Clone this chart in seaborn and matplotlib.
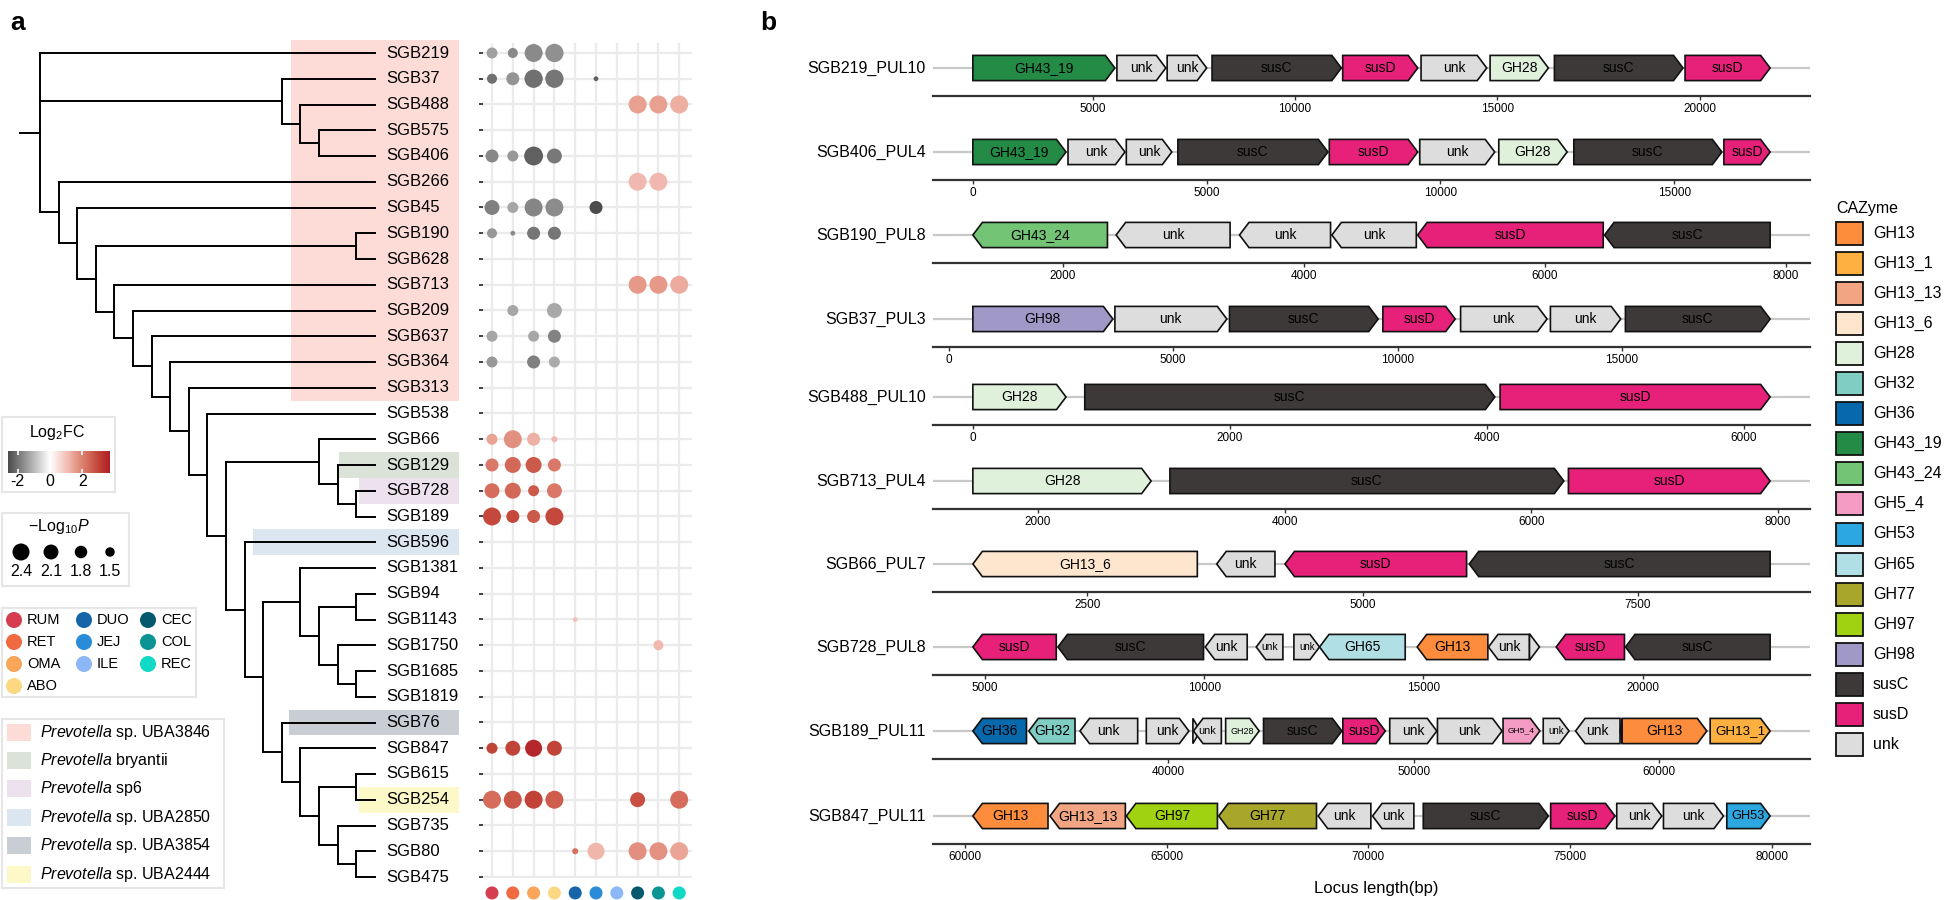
import numpy as np
import pandas as pd
import matplotlib
matplotlib.use('Agg')
import matplotlib.pyplot as plt
import seaborn as sns
from matplotlib.patches import Rectangle, Polygon
from matplotlib.colors import LinearSegmentedColormap, Normalize
from matplotlib.ticker import MultipleLocator, StrMethodFormatter

# ---------------- data ----------------
# tree topology (cladogram units)
NEWICK = ("(SGB219:18,(SGB37:5,(SGB488:4,(SGB575:3,SGB406:3):1):1):13,"
          "(SGB266:17,(SGB45:16,((SGB190:1,SGB628:1):14,"
          "(SGB713:14,(SGB209:13,(SGB637:12,(SGB364:11,(SGB313:10,(SGB538:9,"
          "((SGB66:3,(SGB129:2,(SGB728:1,SGB189:1):1):1):5,"
          "(SGB596:7,((SGB1381:4,((SGB94:1,SGB1143:1):2,(SGB1750:2,(SGB1685:1,SGB1819:1):1):1):1):2,"
          "(SGB76:5,(SGB847:4,((SGB615:1,SGB254:1):2,(SGB735:2,(SGB80:1,SGB475:1):1):1):1):1)"
          ":1):1):1):1):1):1):1):1):1):1):1):1):1);")

clade_species = ['Prevotella sp. UBA3846', 'Prevotella bryantii', 'Prevotella sp6',
                 'Prevotella sp. UBA2850', 'Prevotella sp. UBA3854', 'Prevotella sp. UBA2444']
clade_first = ['SGB219', 'SGB129', 'SGB728', 'SGB596', 'SGB76', 'SGB254']
clade_last = ['SGB313', 'SGB129', 'SGB728', 'SGB596', 'SGB76', 'SGB254']
clade_colors = ['#fddcd8', '#dbe3d9', '#ede1ee', '#dbe6f0', '#c9cdd4', '#fdf8c8']

tissues = ['RUM', 'RET', 'OMA', 'ABO', 'DUO', 'JEJ', 'ILE', 'CEC', 'COL', 'REC']
tissue_colors = ['#d63d50', '#ef6a40', '#f9a65a', '#fdd882', '#1565a8',
                 '#2a8bd9', '#8db8f8', '#04596e', '#0a9494', '#10d9c5']

dot_sgb = (['SGB219'] * 4 + ['SGB37'] * 5 + ['SGB488'] * 3 + ['SGB406'] * 4 + ['SGB266'] * 2 +
           ['SGB45'] * 5 + ['SGB190'] * 4 + ['SGB713'] * 3 + ['SGB209'] * 2 + ['SGB637'] * 3 +
           ['SGB364'] * 3 + ['SGB66'] * 4 + ['SGB129'] * 4 + ['SGB728'] * 4 + ['SGB189'] * 4 +
           ['SGB1143'] + ['SGB1750'] + ['SGB847'] * 4 + ['SGB254'] * 6 + ['SGB80'] * 5)
dot_tissue = (['RUM', 'RET', 'OMA', 'ABO'] + ['RUM', 'RET', 'OMA', 'ABO', 'JEJ'] + ['CEC', 'COL', 'REC'] +
              ['RUM', 'RET', 'OMA', 'ABO'] + ['CEC', 'COL'] + ['RUM', 'RET', 'OMA', 'ABO', 'JEJ'] +
              ['RUM', 'RET', 'OMA', 'ABO'] + ['CEC', 'COL', 'REC'] + ['RET', 'ABO'] + ['RUM', 'OMA', 'ABO'] +
              ['RUM', 'OMA', 'ABO'] + ['RUM', 'RET', 'OMA', 'ABO'] + ['RUM', 'RET', 'OMA', 'ABO'] +
              ['RUM', 'RET', 'OMA', 'ABO'] + ['RUM', 'RET', 'OMA', 'ABO'] + ['DUO'] + ['COL'] +
              ['RUM', 'RET', 'OMA', 'ABO'] + ['RUM', 'RET', 'OMA', 'ABO', 'CEC', 'REC'] +
              ['DUO', 'JEJ', 'CEC', 'COL', 'REC'])
dot_lfc = ([-1.38, -1.73, -1.69, -1.61] + [-2.07, -1.55, -2.07, -1.97, -2.3] + [1.5, 1.5, 1.3] +
           [-1.73, -1.5, -2.3, -1.95] + [1.15, 1.15] + [-1.84, -1.3, -1.75, -1.65, -2.6] +
           [-1.5, -1.7, -1.97, -1.97] + [1.6, 1.6, 1.35] + [-1.3, -1.25] + [-1.3, -1.3, -1.8] +
           [-1.5, -1.84, -1.23] + [1.47, 1.75, 1.26, 1.15] + [2.16, 2.4, 2.64, 2.16] +
           [2.37, 2.4, 2.64, 2.16] + [2.9, 2.9, 2.64, 2.9] + [1.0] + [1.15] + [3.0, 3.0, 3.5, 3.0] +
           [2.37, 2.69, 3.03, 2.58, 2.8, 2.37] + [2.29, 1.2, 1.78, 1.71, 1.44])
dot_logp = ([1.64, 1.55, 2.55, 2.6] + [1.55, 1.86, 2.6, 2.6, 1.2] + [2.55, 2.55, 2.55] +
            [1.86, 1.64, 2.7, 2.1] + [2.55, 2.55] + [2.1, 1.64, 2.55, 2.55, 1.86] +
            [1.55, 1.2, 1.86, 1.86] + [2.55, 2.55, 2.55] + [1.64, 2.1] + [1.64, 1.64, 1.86] +
            [1.64, 1.86, 1.64] + [1.64, 2.55, 1.86, 1.26] + [1.86, 2.25, 2.25, 1.86] +
            [2.1, 2.25, 1.64, 2.1] + [2.55, 1.86, 1.86, 2.55] + [1.2] + [1.55] + [1.64, 2.1, 2.4, 2.1] +
            [2.55, 2.55, 2.55, 2.55, 2.1, 2.55] + [1.26, 2.4, 2.55, 2.55, 2.55])

cazyme_names = ['GH13', 'GH13_1', 'GH13_13', 'GH13_6', 'GH28', 'GH32', 'GH36', 'GH43_19', 'GH43_24',
                'GH5_4', 'GH53', 'GH65', 'GH77', 'GH97', 'GH98', 'susC', 'susD', 'unk']
cazyme_colors = ['#fd8d3c', '#fdb03f', '#f2a583', '#fee6ce', '#e0f1db', '#7fcdc3', '#0868ac', '#238b45',
                 '#74c476', '#f39bc3', '#2ca7e0', '#b0e0e6', '#a9a72b', '#a1d212', '#a099c8', '#3d3939',
                 '#e7217a', '#dddddd']

loci = ['SGB219_PUL10', 'SGB406_PUL4', 'SGB190_PUL8', 'SGB37_PUL3', 'SGB488_PUL10',
        'SGB713_PUL4', 'SGB66_PUL7', 'SGB728_PUL8', 'SGB189_PUL11', 'SGB847_PUL11']
locus_tick_step = [5000, 5000, 2000, 5000, 2000, 2000, 2500, 5000, 10000, 5000]

gene_locus = (['SGB219_PUL10'] * 9 + ['SGB406_PUL4'] * 9 + ['SGB190_PUL8'] * 6 + ['SGB37_PUL3'] * 7 +
              ['SGB488_PUL10'] * 3 + ['SGB713_PUL4'] * 3 + ['SGB66_PUL7'] * 4 + ['SGB728_PUL8'] * 11 +
              ['SGB189_PUL11'] * 18 + ['SGB847_PUL11'] * 11)
gene_name = (['GH43_19', 'unk', 'unk', 'susC', 'susD', 'unk', 'GH28', 'susC', 'susD'] +
             ['GH43_19', 'unk', 'unk', 'susC', 'susD', 'unk', 'GH28', 'susC', 'susD'] +
             ['GH43_24', 'unk', 'unk', 'unk', 'susD', 'susC'] +
             ['GH98', 'unk', 'susC', 'susD', 'unk', 'unk', 'susC'] +
             ['GH28', 'susC', 'susD'] +
             ['GH28', 'susC', 'susD'] +
             ['GH13_6', 'unk', 'susD', 'susC'] +
             ['susD', 'susC', 'unk', 'unk', 'unk', 'GH65', 'GH13', 'unk', 'unk', 'susD', 'susC'] +
             ['GH36', 'GH32', 'unk', 'unk', 'unk', 'unk', 'GH28', 'susC', 'susD', 'unk', 'unk', 'GH5_4',
              'unk', 'unk', 'unk', 'GH13', 'GH13_1'] + ['unk'] +
             ['GH13', 'GH13_13', 'GH97', 'GH77', 'unk', 'unk', 'susC', 'susD', 'unk', 'unk', 'GH53'])
gene_start = ([2036, 5596, 6838, 7948, 11177, 13114, 14820, 16410, 19639] +
              [0, 2035, 3282, 4385, 7624, 9558, 11249, 12854, 16064] +
              [1256, 2444, 3467, 4233, 4944, 6494] +
              [537, 3702, 6255, 9673, 11405, 13406, 15077] +
              [0, 871, 4104] +
              [1473, 3070, 6300] +
              [1460, 3674, 4294, 5967] +
              [4724, 6664, 10023, 11186, 12045, 12629, 14856, 16482, 17417, 18026, 19606] +
              [32049, 34327, 36413, 39112, 41010, 41035, 42344, 43886, 47117, 49026, 50970, 53641,
               55277, 56594, 58420, 58492, 62076] + [58420] +
              [60201, 62113, 64005, 66294, 68759, 70106, 71363, 74520, 76157, 77315, 78885])
gene_end = ([5546, 6805, 7815, 11144, 13032, 14737, 16261, 19589, 21742] +
            [1992, 3253, 4256, 7595, 9515, 11163, 12711, 16021, 17053] +
            [2372, 3389, 4222, 4933, 6483, 7867] +
            [3657, 6196, 9569, 11285, 13331, 14973, 18302] +
            [725, 4063, 6206] +
            [2918, 6263, 7935] +
            [3498, 4203, 5943, 8699] +
            [6626, 9984, 10980, 11794, 12629, 14583, 16468, 17417, 17645, 19583, 22905] +
            [34233, 36209, 38761, 40847, 41309, 42168, 43710, 47076, 48847, 50943, 53600, 55142,
             56328, 58405, 58490, 61940, 64518] + [58490] +
            [62063, 63980, 66262, 68717, 70064, 71130, 74463, 76115, 77273, 78803, 79959])
gene_strand = ([1] * 9 + [1] * 9 + [-1] * 6 + [1] * 7 + [1] * 3 + [1] * 3 + [-1] * 4 +
               [-1, -1, -1, -1, 1, -1, -1, -1, 1, -1, -1] +
               [-1, -1, -1, 1, 1, -1, 1, 1, 1, 1, 1, 1, 1, -1, -1, 1, 1] + [-1] +
               [-1, -1, -1, -1, -1, -1, 1, 1, 1, 1, 1])

# ---------------- style ----------------
W, H = 1946, 900
sns.set_theme(style='white')
plt.rcParams['font.family'] = ['Liberation Sans', 'DejaVu Sans']
plt.rcParams['mathtext.fontset'] = 'custom'
plt.rcParams['mathtext.rm'] = 'Liberation Sans'
plt.rcParams['mathtext.it'] = 'Liberation Sans:italic'
plt.rcParams['mathtext.bf'] = 'Liberation Sans:bold'
plt.rcParams['text.color'] = 'black'
plt.rcParams['xtick.color'] = 'black'
plt.rcParams['ytick.color'] = 'black'

fig = plt.figure(figsize=(W / 100, H / 100), dpi=100)
fig.patch.set_facecolor('white')


def px_axes(l, t, r, b, **kw):
    return fig.add_axes([l / W, 1 - b / H, (r - l) / W, (b - t) / H], **kw)


ov = px_axes(0, 0, W, H)
ov.set_xlim(0, W)
ov.set_ylim(H, 0)
ov.axis('off')

# gray -> white -> red, red side bends towards salmon like ggplot's Lab interpolation
lfc_cmap = LinearSegmentedColormap.from_list(
    'lfc', [(0.0, '#000000'), (0.5, '#ffffff'), (0.662, '#f0b5ab'), (0.703, '#e8a090'),
            (0.824, '#d46a5a'), (0.892, '#c44a3c'), (1.0, '#b01f26')])
lfc_norm = Normalize(-3.7, 3.7)
SZ_MIN, SZ_MAX, P_MIN, P_MAX = 12, 196, 1.2, 2.8


# ---------------- tree ----------------
def parse_newick(s):
    s = s.strip().rstrip(';')
    pos = 0

    def node():
        nonlocal pos
        kids = []
        if s[pos] == '(':
            pos += 1
            while True:
                kids.append(node())
                if s[pos] == ',':
                    pos += 1
                    continue
                pos += 1
                break
        st = pos
        while pos < len(s) and s[pos] not in ',():':
            pos += 1
        name = s[st:pos]
        length = 0.0
        if pos < len(s) and s[pos] == ':':
            pos += 1
            st = pos
            while pos < len(s) and s[pos] not in ',()':
                pos += 1
            length = float(s[st:pos])
        return {'name': name, 'len': length, 'kids': kids}

    return node()


tree = parse_newick(NEWICK)
leaves = []


def layout(n, x):
    n['x'] = x
    if not n['kids']:
        n['y'] = len(leaves)
        leaves.append(n['name'])
        return
    for k in n['kids']:
        layout(k, x + k['len'])
    ys = [k['y'] for k in n['kids']]
    n['y'] = (min(ys) + max(ys)) / 2


layout(tree, 0.0)
row_of = {name: i for i, name in enumerate(leaves)}

axt = px_axes(0, 30, 470, 890)
axt.set_xlim((0 - 40) / 18.6, (470 - 40) / 18.6)
axt.set_ylim((890 - 53) / 25.75, (30 - 53) / 25.75)
axt.axis('off')

tl = dict(color='black', lw=1.4, solid_capstyle='projecting')


def draw(n):
    if not n['kids']:
        return
    ys = [k['y'] for k in n['kids']]
    axt.plot([n['x'], n['x']], [min(ys), max(ys)], **tl)
    for k in n['kids']:
        axt.plot([n['x'], k['x']], [k['y'], k['y']], **tl)
        draw(k)


draw(tree)
axt.plot([-1.07, 0], [tree['y'], tree['y']], **tl)

hl_x0 = [13.5, 16.1, 17.15, 11.45, 13.4, 17.15]
for f, l, c, x0 in zip(clade_first, clade_last, clade_colors, hl_x0):
    r0, r1 = row_of[f] - 0.5, row_of[l] + 0.5
    axt.add_patch(Rectangle((x0, r0), 22.55 - x0, r1 - r0, facecolor=c, edgecolor='none', zorder=0))

for name in leaves:
    axt.text(18.6, row_of[name], name, va='center', ha='left', fontsize=12)

# ---------------- dot matrix ----------------
dots = pd.DataFrame({'sgb': dot_sgb, 'tissue': dot_tissue, 'lfc': dot_lfc, 'logp': dot_logp})
dots['row'] = dots.sgb.map(row_of)
dots['col'] = dots.tissue.map(tissues.index)

axd = px_axes(483, 43, 692, 878)
sns.scatterplot(data=dots, x='col', y='row', hue='lfc', size='logp', palette=lfc_cmap,
                hue_norm=lfc_norm, sizes=(SZ_MIN, SZ_MAX), size_norm=(P_MIN, P_MAX),
                edgecolor='none', linewidth=0, legend=False, ax=axd, zorder=3)
axd.set_xlim(-0.433, 9.615)
axd.set_ylim(32.04, -0.388)
axd.set_xticks(range(len(tissues)))
axd.set_yticks(range(len(leaves)))
axd.grid(True, color='#ebebeb', lw=1.6)
axd.set_axisbelow(True)
axd.set_xlabel('')
axd.set_ylabel('')
for sp in axd.spines.values():
    sp.set_visible(False)
axd.tick_params(axis='y', left=True, length=3, width=1.3, color='#333333', pad=0, labelleft=False)
axd.tick_params(axis='x', bottom=False, labelbottom=False)
axd.scatter(range(len(tissues)), [32.62] * len(tissues), c=tissue_colors, s=88, clip_on=False,
            edgecolor='none', zorder=4)

# ---------------- panel a legends ----------------
box = dict(facecolor='white', edgecolor='#e6e6e6', lw=1.5)
ov.add_patch(Rectangle((2, 417), 113, 75, **box))
ov.text(57, 432, 'Log$_2$FC', ha='center', va='center', fontsize=11.5)
cax = px_axes(8, 451, 110, 473)
grad = np.linspace(-2.6, 3.7, 256)
cax.imshow(grad[None, :], extent=(-2.6, 3.7, 0, 1), aspect='auto', cmap=lfc_cmap, norm=lfc_norm)
cax.vlines([-2, 2], 0, 0.2, color='white', lw=1.2)
cax.vlines([-2, 2], 0.8, 1, color='white', lw=1.2)
cax.set_xlim(-2.6, 3.7)
cax.set_ylim(0, 1)
cax.set_xticks([-2, 0, 2])
cax.set_xticklabels(['-2', '0', '2'])
cax.set_yticks([])
cax.tick_params(axis='x', length=0, labelsize=11.5, pad=1)
for sp in cax.spines.values():
    sp.set_visible(False)

ov.add_patch(Rectangle((2, 513), 127, 73, **box))
ov.text(59, 527, '$-$Log$_{10}$$\\mathit{P}$', ha='center', va='center', fontsize=11.5)
leg_p = [2.4, 2.1, 1.8, 1.5]
leg_s = [SZ_MIN + (v - P_MIN) / (P_MAX - P_MIN) * (SZ_MAX - SZ_MIN) for v in leg_p]
ov.scatter([21, 51, 81, 110], [552] * 4, s=leg_s, c='black', edgecolor='none')
for x, v in zip([21, 51, 81, 110], leg_p):
    ov.text(x, 572, f'{v}', ha='center', va='center', fontsize=11.5)

ov.add_patch(Rectangle((2, 608), 194, 89, **box))
col_x = [14, 84, 148]
col_groups = [tissues[0:4], tissues[4:7], tissues[7:10]]
for cx, grp in zip(col_x, col_groups):
    for j, t in enumerate(grp):
        y = 620 + 22 * j
        ov.scatter([cx], [y], s=133, c=tissue_colors[tissues.index(t)], edgecolor='none')
        ov.text(cx + 13, y, t, ha='left', va='center', fontsize=10.5)

ov.add_patch(Rectangle((2, 719), 222, 169, **box))
for j, (sp_name, c) in enumerate(zip(clade_species, clade_colors)):
    y = 732 + 28.4 * j
    ov.add_patch(Rectangle((7, y - 8.5), 24, 17, facecolor=c, edgecolor='none'))
    genus, rest = sp_name.split(' ', 1)
    ov.text(40, y, f'$\\mathit{{{genus}}}$ {rest}', ha='left', va='center', fontsize=11.5)

ov.text(10, 30, 'a', fontsize=19, fontweight='bold', va='baseline')
ov.text(760, 30, 'b', fontsize=19, fontweight='bold', va='baseline')

# ---------------- panel b: gene maps ----------------
genes = pd.DataFrame({'locus': gene_locus, 'gene': gene_name, 'start': gene_start,
                      'end': gene_end, 'strand': gene_strand})
fill_of = dict(zip(cazyme_names, cazyme_colors))
centers = [68, 152, 235, 319, 397, 481, 564, 647, 731, 816]
renderer = fig.canvas.get_renderer()
PANEL_PX = 1810 - 933
HEAD_PX = 9.5
HH = 0.45

for locus, c, step in zip(loci, centers, locus_tick_step):
    ax = px_axes(933, c - 28, 1810, c + 28)
    g = genes[genes.locus == locus]
    lo, hi = g.start.min(), g.end.max()
    pad = 0.05 * (hi - lo)
    ax.set_xlim(lo - pad, hi + pad)
    ax.set_ylim(-1, 1)
    bp_per_px = (hi - lo + 2 * pad) / PANEL_PX
    head = HEAD_PX * bp_per_px
    ax.axhline(0, color='#c8c8c8', lw=1.6, zorder=0)
    for _, r in g.iterrows():
        s, e = r.start, r.end
        if r.strand > 0:
            if e - s > head:
                pts = [(s, -HH), (e - head, -HH), (e, 0), (e - head, HH), (s, HH)]
            else:
                pts = [(s, -HH), (e, 0), (s, HH)]
        else:
            if e - s > head:
                pts = [(e, -HH), (s + head, -HH), (s, 0), (s + head, HH), (e, HH)]
            else:
                pts = [(e, -HH), (s, 0), (e, HH)]
        ax.add_patch(Polygon(pts, closed=True, facecolor=fill_of[r.gene], edgecolor='#111111',
                             lw=1.2, joinstyle='miter', zorder=2))
        t = ax.text((s + e) / 2, 0, r.gene, ha='center', va='center', fontsize=10,
                    color='black', zorder=3)
        tw = t.get_window_extent(renderer).width
        avail = (e - s) / bp_per_px - 10
        if avail < 0.4 * tw:
            t.remove()
        elif tw > avail:
            t.set_fontsize(10 * avail / tw)
    ax.xaxis.set_major_locator(MultipleLocator(step))
    ax.xaxis.set_major_formatter(StrMethodFormatter('{x:.0f}'))
    ax.set_yticks([])
    for name, sp in ax.spines.items():
        sp.set_visible(name == 'bottom')
    ax.spines['bottom'].set_color('#333333')
    ax.spines['bottom'].set_linewidth(1.6)
    ax.tick_params(axis='x', bottom=True, length=3, width=1, color='#333333', labelsize=8.5,
                   labelcolor='black', pad=2)
    ax.patch.set_alpha(0)
    ax.text(-0.008, 0.5, locus, transform=ax.transAxes, ha='right', va='center', fontsize=11.5)

ov.text(1376, 889, 'Locus length(bp)', ha='center', va='center', fontsize=12)

# CAZyme legend
ov.text(1836, 209, 'CAZyme', ha='left', va='center', fontsize=11.5)
for j, (nm, col) in enumerate(zip(cazyme_names, cazyme_colors)):
    y = 233 + 30.1 * j
    ov.add_patch(Rectangle((1836, y - 11.5), 27, 23, facecolor=col, edgecolor='#111111', lw=1.3))
    ov.text(1873, y, nm, ha='left', va='center', fontsize=11.5)

fig.savefig('out.png', dpi=100, facecolor='white')
